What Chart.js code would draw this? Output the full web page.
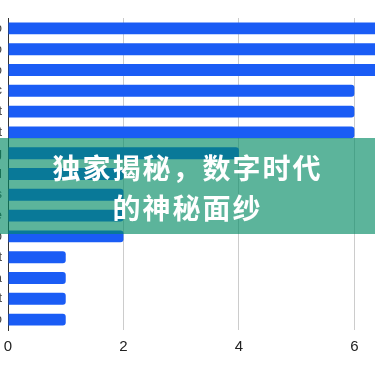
<!DOCTYPE html>
<html>
<head>
<meta charset="utf-8">
<script src="https://cdn.jsdelivr.net/npm/chart.js@4"></script>
<style>
  html, body { margin: 0; padding: 0; background: #fff; overflow: hidden; }
  body { width: 375px; height: 375px; position: relative; }
  #wrap { position: absolute; left: -100px; top: 0; width: 582px; height: 375px; }
  #banner {
    position: absolute; left: 0; top: 138px; width: 375px; height: 96px;
    background: rgba(0, 137, 99, 0.64);
  }
  #title {
    position: absolute; left: 0; top: 147px; width: 375px;
    text-align: center; color: #fff;
    font-family: "Noto Sans CJK SC", sans-serif; font-weight: 700;
    font-size: 28px; line-height: 40px; letter-spacing: 2px;
  }
</style>
</head>
<body>
<div id="wrap"><canvas id="myChart"></canvas></div>
<div id="banner"></div>
<div id="title">独家揭秘，数字时代<br>的神秘面纱</div>
<script>
const labels = ['Video', 'Audio', 'Photo', 'Music', 'Post', 'Text', 'Blog', 'Mail',
                'News', 'Game', 'Map', 'Chat', 'Data', 'Cart', 'Info'];
const values = [7, 7, 7, 6, 6, 6, 4, 2, 2, 2, 2, 1, 1, 1, 1];
const xTicks = [0, 2, 4, 6, 8];

const ctx = document.getElementById('myChart').getContext('2d');
const myChart = new Chart(ctx, {
    type: 'bar',
    data: {
        labels: labels,
        datasets: [{
            data: values,
            backgroundColor: '#1a5cf5',
            borderRadius: 3,
            borderSkipped: 'start',
            barPercentage: 0.6,
            categoryPercentage: 0.95
        }]
    },
    options: {
        indexAxis: 'y',
        responsive: true,
        maintainAspectRatio: false,
        animation: false,
        layout: { padding: { top: 18, right: 10, left: 0, bottom: 0 } },
        plugins: {
            legend: { display: false },
            tooltip: { enabled: false }
        },
        scales: {
            x: {
                min: 0,
                max: 8,
                afterBuildTicks: (s) => { s.ticks = xTicks.map(v => ({ value: v })); },
                afterFit: (s) => { s.height = 45; },
                grid: { color: '#cccccc', drawTicks: false },
                border: { display: false },
                ticks: {
                    padding: 8,
                    color: '#222',
                    font: { family: 'Liberation Sans, Arial', size: 15 }
                }
            },
            y: {
                afterFit: (s) => { s.width = 108; },
                grid: { display: false, drawTicks: false },
                border: { display: true, color: '#333', width: 1 },
                ticks: {
                    padding: 6,
                    color: '#444',
                    font: { family: 'Liberation Sans, Arial', size: 13 }
                }
            }
        }
    }
});
</script>
</body>
</html>
